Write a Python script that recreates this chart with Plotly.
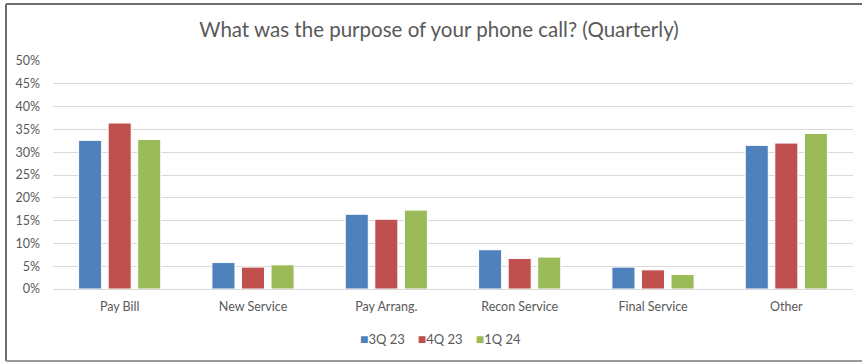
import plotly.graph_objects as go

categories = ["Pay Bill", "New Service", "Pay Arrang.", "Recon Service", "Final Service", "Other"]
series_names = ["3Q 23", "4Q 23", "1Q 24"]
q3_23 = [0.326, 0.058, 0.164, 0.086, 0.048, 0.315]
q4_23 = [0.364, 0.048, 0.153, 0.067, 0.042, 0.320]
q1_24 = [0.328, 0.053, 0.173, 0.070, 0.032, 0.341]
colors = ["#4F81BD", "#C0504D", "#9BBB59"]
y_ticks = [0, 0.05, 0.10, 0.15, 0.20, 0.25, 0.30, 0.35, 0.40, 0.45, 0.50]

FONT = "Lato"
GRAY = "#595959"

fig = go.Figure()
for name, vals, c in zip(series_names, [q3_23, q4_23, q1_24], colors):
    fig.add_trace(go.Bar(x=categories, y=vals, name=name, showlegend=False,
                         marker=dict(color=c, line=dict(color="white", width=1))))

L, R, T, B = 53, 9, 61, 73
W, H = 862, 362
pw, ph = W - L - R, H - T - B

def px2x(px):
    return (px - L) / pw

def py2y(py):
    return (H - B - py) / ph

legend_text = "\u2002\u2002".join(
    f"<span style='color:{c};font-size:14px'>■</span>{n}" for n, c in zip(series_names, colors)
)

fig.update_layout(
    width=W, height=H,
    margin=dict(l=L, r=R, t=T, b=B),
    paper_bgcolor="white", plot_bgcolor="white",
    barmode="group", bargap=0.335, bargroupgap=0.22,
    font=dict(family=FONT, color=GRAY, size=12),
    title=dict(text="What was the purpose of your phone call? (Quarterly)",
               font=dict(family=FONT, size=20.5, color=GRAY),
               xref="container", x=439 / W, xanchor="center",
               yref="container", y=1 - 30 / H, yanchor="middle"),
    xaxis=dict(showgrid=False, showline=True, linecolor="#D9D9D9", linewidth=1,
               ticks="", tickfont=dict(size=12.5, color=GRAY), ticklabelstandoff=6),
    yaxis=dict(range=[0, 0.5], tickvals=y_ticks, tickformat=".0%",
               showgrid=True, gridcolor="#D9D9D9", gridwidth=1,
               zeroline=False, showline=False, ticks="",
               tickfont=dict(size=12.5, color=GRAY), ticklabelstandoff=12),
    annotations=[dict(text=legend_text, xref="paper", yref="paper",
                      x=px2x(440), y=py2y(338), xanchor="center", yanchor="middle",
                      showarrow=False, font=dict(family=FONT, size=13, color=GRAY))],
    shapes=[
        dict(type="line", xref="paper", yref="paper", x0=px2x(6), x1=px2x(6),
             y0=py2y(4), y1=py2y(361), line=dict(color="#6E6E6E", width=2)),
        dict(type="line", xref="paper", yref="paper", x0=px2x(6), x1=px2x(880),
             y0=py2y(4), y1=py2y(4), line=dict(color="#6E6E6E", width=2)),
        dict(type="line", xref="paper", yref="paper", x0=px2x(6), x1=px2x(880),
             y0=py2y(361), y1=py2y(361), line=dict(color="#9A9A9A", width=2)),
    ],
)

fig.write_html("out.html")
